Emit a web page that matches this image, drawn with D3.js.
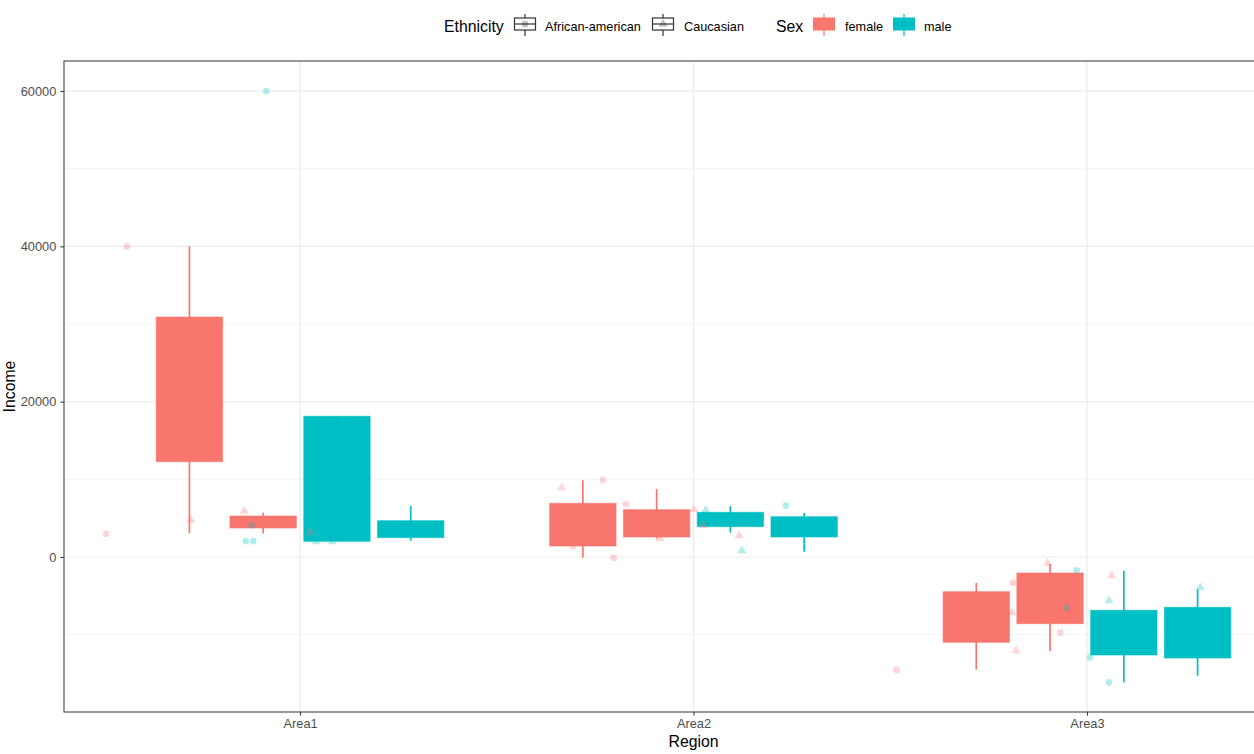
<!DOCTYPE html>
<html>
<head>
<meta charset="utf-8">
<script src="https://cdn.jsdelivr.net/npm/d3@7"></script>
<style>
  body { margin: 0; background: #fff; }
  text { font-family: "Liberation Sans", Arial, sans-serif; }
</style>
</head>
<body>
<div id="chart"></div>
<script>
const regions = ['Area1', 'Area2', 'Area3'];
const sexes = ['female', 'male'];
const ethnicities = ['African-american', 'Caucasian'];
const sexColors = ['#F8766D', '#00BFC4'];
const yTicks = [0, 20000, 40000, 60000];

// box stats per region / sex / ethnicity: lower whisker, q1, q3, upper whisker
const boxRegion = ['Area1', 'Area1', 'Area1', 'Area1', 'Area2', 'Area2', 'Area2', 'Area2', 'Area3', 'Area3', 'Area3', 'Area3'];
const boxSex = ['female', 'female', 'male', 'male', 'female', 'female', 'male', 'male', 'female', 'female', 'male', 'male'];
const boxEth = ['African-american', 'Caucasian', 'African-american', 'Caucasian', 'African-american', 'Caucasian', 'African-american', 'Caucasian', 'African-american', 'Caucasian', 'African-american', 'Caucasian'];
const boxLow = [3050, 3050, 2020, 2100, -85, 2360, 3130, 680, -14510, -12105, -16140, -15290];
const boxQ1 = [12270, 3735, 2020, 2490, 1415, 2575, 3905, 2575, -10985, -8590, -12620, -13010];
const boxQ3 = [30900, 5280, 18120, 4675, 6915, 6090, 5755, 5190, -4465, -2060, -6865, -6480];
const boxHigh = [40000, 5705, 18120, 6570, 9875, 8755, 6570, 5665, -3350, -900, -1765, -4160];

// jittered raw points: position on the region axis (1 = Area1), income, sex, ethnicity
const ptX = [0.507, 0.560, 0.722, 0.858, 0.877, 0.862, 0.881, 0.914, 1.026, 1.040, 1.082,
  1.665, 1.770, 1.694, 1.797, 1.828, 1.915, 2.001, 2.025, 2.031, 2.116, 2.123, 2.235,
  2.516, 2.812, 2.810, 2.820, 2.900, 2.948, 2.932, 2.974, 3.063, 3.056, 3.008, 3.056, 3.288];
const ptIncome = [3000, 40000, 4750, 5900, 4080, 2050, 2050, 60000, 3180, 1970, 1970,
  8925, 9915, 1415, -85, 6825, 2360, 6090, 4080, 6015, 2745, 810, 6605,
  -14550, -3310, -7175, -12065, -810, -6530, -9750, -1715, -2410, -5630, -12920, -16140, -3950];
const ptSex = ['female', 'female', 'female', 'female', 'male', 'male', 'male', 'male', 'female', 'male', 'male',
  'female', 'female', 'female', 'female', 'female', 'female', 'female', 'female', 'male', 'female', 'male', 'male',
  'female', 'female', 'female', 'female', 'female', 'male', 'female', 'male', 'female', 'male', 'male', 'male', 'male'];
const ptEth = ['African-american', 'African-american', 'Caucasian', 'Caucasian', 'African-american', 'African-american', 'African-american', 'African-american', 'Caucasian', 'Caucasian', 'Caucasian',
  'Caucasian', 'African-american', 'African-american', 'African-american', 'African-american', 'Caucasian', 'Caucasian', 'Caucasian', 'Caucasian', 'Caucasian', 'Caucasian', 'African-american',
  'African-american', 'African-american', 'Caucasian', 'Caucasian', 'Caucasian', 'African-american', 'African-american', 'African-american', 'Caucasian', 'Caucasian', 'African-american', 'African-american', 'Caucasian'];

const w = 1254;
const h = 754;
const margin = { top: 61, left: 64, bottom: 42 };
const plotRight = 1323; // panel runs past the cropped right edge

const svg = d3.select('#chart').append('svg')
  .attr('width', w)
  .attr('height', h);

const x = d3.scaleLinear().domain([0.4, 3.6]).range([margin.left, plotRight]);
const y = d3.scaleLinear().domain([-19960, 63870]).range([h - margin.bottom, margin.top]);
const color = d3.scaleOrdinal().domain(sexes).range(sexColors);

// dodge: 4 slots per region
const slotW = 0.1875;
const boxW = slotW * 0.9;
const slotOffset = (sex, eth) => {
  const k = sexes.indexOf(sex) * 2 + ethnicities.indexOf(eth);
  return (k - 1.5) * slotW;
};

// grid
const grid = svg.append('g');
const minor = [-10000, 10000, 30000, 50000];
grid.selectAll('.minor').data(minor).enter().append('line')
  .attr('x1', margin.left).attr('x2', plotRight)
  .attr('y1', d => y(d)).attr('y2', d => y(d))
  .attr('stroke', '#EBEBEB').attr('stroke-width', 0.6);
grid.selectAll('.major').data(yTicks).enter().append('line')
  .attr('x1', margin.left).attr('x2', plotRight)
  .attr('y1', d => y(d)).attr('y2', d => y(d))
  .attr('stroke', '#EBEBEB').attr('stroke-width', 1.2);
grid.selectAll('.vmajor').data(regions).enter().append('line')
  .attr('x1', (d, i) => x(i + 1)).attr('x2', (d, i) => x(i + 1))
  .attr('y1', margin.top).attr('y2', h - margin.bottom)
  .attr('stroke', '#EBEBEB').attr('stroke-width', 1.2);

// boxes
const boxes = boxRegion.map((r, i) => ({
  cx: regions.indexOf(r) + 1 + slotOffset(boxSex[i], boxEth[i]),
  sex: boxSex[i], low: boxLow[i], q1: boxQ1[i], q3: boxQ3[i], high: boxHigh[i]
}));

const bg = svg.append('g');
bg.selectAll('.whisker').data(boxes).enter().append('line')
  .attr('x1', d => x(d.cx)).attr('x2', d => x(d.cx))
  .attr('y1', d => y(d.low)).attr('y2', d => y(d.high))
  .attr('stroke', d => color(d.sex)).attr('stroke-width', 1.7);
bg.selectAll('rect').data(boxes).enter().append('rect')
  .attr('x', d => x(d.cx - boxW / 2))
  .attr('width', d => x(d.cx + boxW / 2) - x(d.cx - boxW / 2))
  .attr('y', d => y(d.q3))
  .attr('height', d => y(d.q1) - y(d.q3))
  .attr('fill', d => color(d.sex))
  .attr('stroke', d => color(d.sex))
  .attr('stroke-opacity', 0.6)
  .attr('stroke-width', 1);

// points
const points = ptX.map((v, i) => ({ x: v, y: ptIncome[i], sex: ptSex[i], eth: ptEth[i] }));
const circleSym = d3.symbol().type(d3.symbolCircle).size(36);
const triSym = d3.symbol().type(d3.symbolTriangle).size(36);
svg.append('g').selectAll('path').data(points).enter().append('path')
  .attr('transform', d => 'translate(' + x(d.x) + ',' + y(d.y) + ')')
  .attr('d', d => d.eth === 'Caucasian' ? triSym() : circleSym())
  .attr('fill', d => color(d.sex))
  .attr('fill-opacity', 0.3);

// panel border (right side lies outside the picture)
svg.append('rect')
  .attr('x', margin.left).attr('y', margin.top)
  .attr('width', plotRight - margin.left)
  .attr('height', h - margin.bottom - margin.top)
  .attr('fill', 'none').attr('stroke', '#333333').attr('stroke-width', 1);

// axes
const yAxis = d3.axisLeft(y).tickValues(yTicks).tickSize(3.7).tickPadding(4).tickFormat(d3.format('d'));
const xAxis = d3.axisBottom(x).tickValues([1, 2, 3]).tickSize(3.7).tickPadding(3).tickFormat(d => regions[d - 1]);

const gy = svg.append('g').attr('transform', 'translate(' + margin.left + ',0)').call(yAxis);
const gx = svg.append('g').attr('transform', 'translate(0,' + (h - margin.bottom) + ')').call(xAxis);
[gx, gy].forEach(g => {
  g.select('.domain').remove();
  g.selectAll('line').attr('stroke', '#333333');
  g.selectAll('text').attr('fill', '#4D4D4D').attr('font-size', '12.8px')
    .attr('font-family', '"Liberation Sans", Arial, sans-serif');
});

svg.append('text')
  .attr('x', (margin.left + plotRight) / 2).attr('y', 747)
  .attr('text-anchor', 'middle').attr('font-size', '15.8px').text('Region');
svg.append('text')
  .attr('transform', 'translate(15,' + ((margin.top + h - margin.bottom) / 2) + ') rotate(-90)')
  .attr('text-anchor', 'middle').attr('font-size', '15.8px').text('Income');

// legend
const legend = svg.append('g');
legend.append('text').attr('x', 444).attr('y', 32).attr('font-size', '15.8px').text('Ethnicity');
const ethKeyX = [514, 652];
const ethLabelX = [545, 684];
ethnicities.forEach((e, i) => {
  const k = legend.append('g').attr('transform', 'translate(' + ethKeyX[i] + ',0)');
  k.append('line').attr('x1', 11).attr('x2', 11).attr('y1', 14).attr('y2', 36)
    .attr('stroke', '#333333').attr('stroke-width', 1.2);
  k.append('rect').attr('x', 0.5).attr('y', 18).attr('width', 21).attr('height', 12)
    .attr('fill', '#fff').attr('stroke', '#333333').attr('stroke-width', 1.2);
  k.append('line').attr('x1', 0.5).attr('x2', 21.5).attr('y1', 24).attr('y2', 24)
    .attr('stroke', '#333333').attr('stroke-width', 1.2);
  k.append('path').attr('transform', 'translate(11,24)')
    .attr('d', e === 'Caucasian' ? triSym() : circleSym())
    .attr('fill', '#333333').attr('fill-opacity', 0.3);
  legend.append('text').attr('x', ethLabelX[i]).attr('y', 30.5).attr('font-size', '12.7px').text(e);
});
legend.append('text').attr('x', 776).attr('y', 32).attr('font-size', '15.8px').text('Sex');
const sexKeyX = [813, 893];
const sexLabelX = [845, 924];
sexes.forEach((s, i) => {
  const k = legend.append('g').attr('transform', 'translate(' + sexKeyX[i] + ',0)');
  k.append('line').attr('x1', 11).attr('x2', 11).attr('y1', 14).attr('y2', 36)
    .attr('stroke', color(s)).attr('stroke-width', 1.2);
  k.append('rect').attr('x', 0.5).attr('y', 18).attr('width', 21).attr('height', 12)
    .attr('fill', color(s)).attr('stroke', color(s)).attr('stroke-width', 1);
  legend.append('text').attr('x', sexLabelX[i]).attr('y', 30.5).attr('font-size', '12.7px').text(s);
});
</script>
</body>
</html>
